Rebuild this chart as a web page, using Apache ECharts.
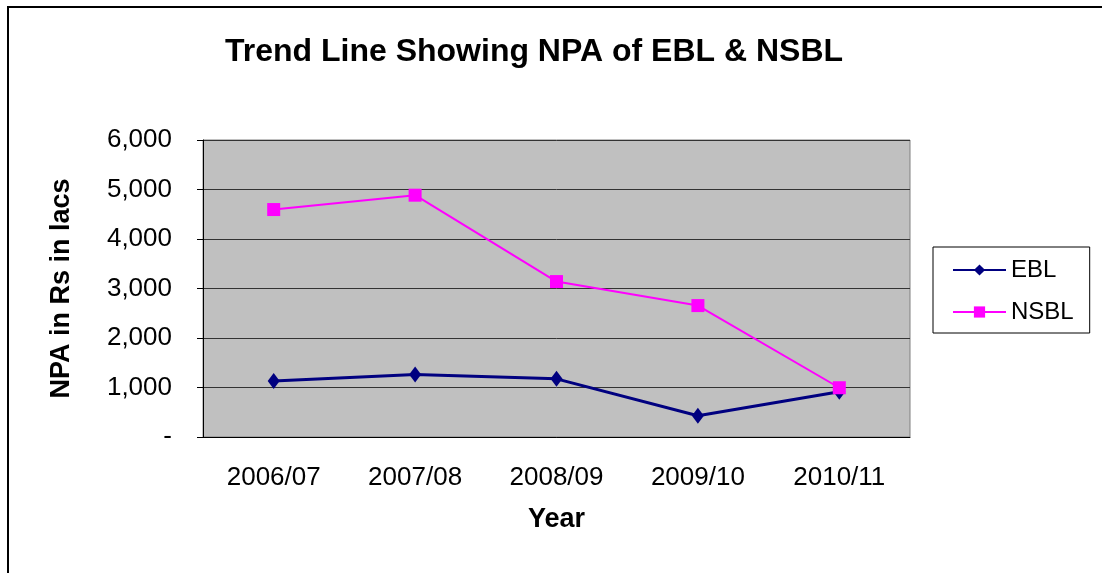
<!DOCTYPE html>
<html>
<head>
<meta charset="utf-8">
<script src="https://cdn.jsdelivr.net/npm/echarts@6/dist/echarts.min.js"></script>
<style>
  html, body { margin: 0; padding: 0; background: #fff; }
  #chart { width: 1102px; height: 573px; }
</style>
</head>
<body>
<div id="chart"></div>
<script>
const years = ["2006/07", "2007/08", "2008/09", "2009/10", "2010/11"];
const ebl = [1130, 1265, 1175, 430, 915];
const nsbl = [4595, 4885, 3140, 2655, 995];
const yTicks = [0, 1000, 2000, 3000, 4000, 5000, 6000];

const chart = echarts.init(document.getElementById("chart"));
const font = "Liberation Sans, Arial, sans-serif";

chart.setOption({
  animation: false,
  textStyle: { fontFamily: font },
  graphic: [
    {
      type: "rect",
      shape: { x: 8, y: 7, width: 1110, height: 590 },
      style: { fill: "none", stroke: "#000", lineWidth: 2 },
    },
  ],
  title: {
    text: "Trend Line Showing NPA of EBL & NSBL",
    left: 529,
    textAlign: "center",
    top: 31,
    textStyle: { fontSize: 32, fontWeight: "bold", color: "#000", fontFamily: font },
  },
  legend: {
    orient: "vertical",
    left: 933,
    top: 247,
    padding: [11, 16, 9, 19],
    itemGap: 18,
    itemWidth: 53,
    itemHeight: 14,
    borderColor: "#000",
    borderWidth: 1,
    textStyle: { fontSize: 24, color: "#000", fontFamily: font },
    data: ["EBL", "NSBL"],
  },
  grid: { left: 203, right: 192, top: 140, bottom: 136, show: true, backgroundColor: "#C0C0C0", borderColor: "#808080", borderWidth: 1 },
  xAxis: {
    type: "category",
    data: years,
    name: "Year",
    nameLocation: "middle",
    nameGap: 69,
    nameTextStyle: { fontSize: 27, fontWeight: "bold", color: "#000" },
    axisLine: { lineStyle: { color: "#000", width: 1 } },
    axisTick: { length: 6, lineStyle: { color: "#000" } },
    axisLabel: { fontSize: 26, color: "#000", margin: 28 },
  },
  yAxis: {
    type: "value",
    min: yTicks[0],
    max: yTicks[yTicks.length - 1],
    interval: 1000,
    name: "NPA in Rs in lacs",
    nameLocation: "middle",
    nameGap: 128,
    nameTextStyle: { fontSize: 27, fontWeight: "bold", color: "#000" },
    axisLine: { show: true, lineStyle: { color: "#000", width: 1 } },
    axisTick: { show: true, length: 6, lineStyle: { color: "#000" } },
    splitLine: { lineStyle: { color: "#333", width: 1 } },
    axisLabel: {
      fontSize: 26,
      color: "#000",
      margin: 31,
      formatter: (v) => (v === 0 ? "-" : v.toLocaleString("en-US")),
    },
  },
  series: [
    {
      name: "EBL",
      type: "line",
      data: ebl,
      symbol: "diamond",
      symbolSize: [12, 16],
      lineStyle: { color: "#000080", width: 3 },
      itemStyle: { color: "#000080" },
    },
    {
      name: "NSBL",
      type: "line",
      data: nsbl,
      symbol: "rect",
      symbolSize: 13,
      lineStyle: { color: "#FF00FF", width: 2 },
      itemStyle: { color: "#FF00FF" },
    },
  ],
});
</script>
</body>
</html>
